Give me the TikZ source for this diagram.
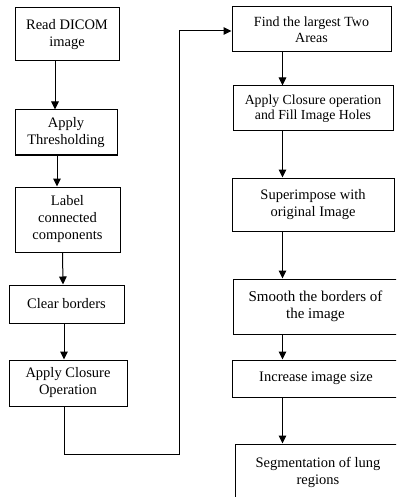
\documentclass[tikz,border=0pt]{standalone}
\usepackage{fontspec}
\setmainfont{Liberation Serif}
\usetikzlibrary{arrows.meta}
\tikzset{
  stage/.style  ={draw, line width=1pt, fill=white, align=center, inner sep=2pt,
                  font=\fontsize{14.5}{17}\selectfont},
  flowarr/.style={-{Triangle[length=8pt,width=7.5pt]}, line width=1pt},
}

\begin{document}
\begin{tikzpicture}[x=1pt, y=-1pt]
\useasboundingbox (0,0) rectangle (396,497);
\fill[white] (0,0) rectangle (396,497);
\clip (0,0) rectangle (396,497);

% left column
\node[stage, minimum width=104pt, minimum height=53pt] (read)   at (67,34.5)  {Read DICOM\\image};
\node[stage, minimum width=102pt, minimum height=45pt] (thresh) at (66,132.5) {Apply\\Thresholding};
\node[stage, minimum width=105pt, minimum height=65pt] (label)  at (67.5,219.5) {Label\\connected\\components};
\node[stage, minimum width=115pt, minimum height=38pt] (clear)  at (66.5,304) {Clear borders};
\node[stage, minimum width=118pt, minimum height=46pt] (closeA) at (68,383)   {Apply Closure\\Operation};

% right column
\node[stage, minimum width=159pt, minimum height=45pt, font=\fontsize{14}{15.5}\selectfont] (largest) at (311.5,29.5) {Find the largest Two\\Areas};
\node[stage, minimum width=160pt, minimum height=45pt, font=\fontsize{13.8}{15.5}\selectfont] (fillh) at (313,108.5) {Apply Closure operation\\and Fill Image Holes};
\node[stage, minimum width=162pt, minimum height=53pt] (superimp) at (313,204.5) {Superimpose with\\original Image};
\node[stage, minimum width=165pt, minimum height=55pt, font=\fontsize{15}{17}\selectfont] (smooth) at (315.5,306.5) {Smooth the borders of\\the image};
\node[stage, minimum width=168pt, minimum height=37pt] (bigger) at (316,378.5) {Increase image size};
\node[stage, minimum width=166pt, minimum height=56pt] (segment) at (318,472) {Segmentation of lung\\regions};

\coordinate (spine) at (282.5,0);
\coordinate (bend) at (179,31);

\draw[flowarr] ([xshift=-12pt]read.south) -- ([xshift=-11pt]thresh.north);
\draw[flowarr] ([xshift=-9pt]thresh.south) -- ([xshift=-10.5pt]label.north);
\draw[flowarr] ([xshift=-5pt]label.south) -- ([xshift=-3.5pt]clear.north);
\draw[flowarr] ([xshift=-2.5pt]clear.south) -- ([xshift=-4pt]closeA.north);

% jump over to the second column
\draw[flowarr] ([xshift=-4pt]closeA.south) -- ++(0,48) -| (bend) -- (largest.west |- bend);

\draw[flowarr] (largest.south -| spine) -- (fillh.north -| spine);
\draw[flowarr] (fillh.south -| spine) -- (superimp.north -| spine);
\draw[flowarr] (superimp.south -| spine) -- (smooth.north -| spine);
\draw[flowarr] (smooth.south -| spine) -- (bigger.north -| spine);
\draw[flowarr] (bigger.south -| spine) -- (segment.north -| spine);
\end{tikzpicture}
\end{document}
